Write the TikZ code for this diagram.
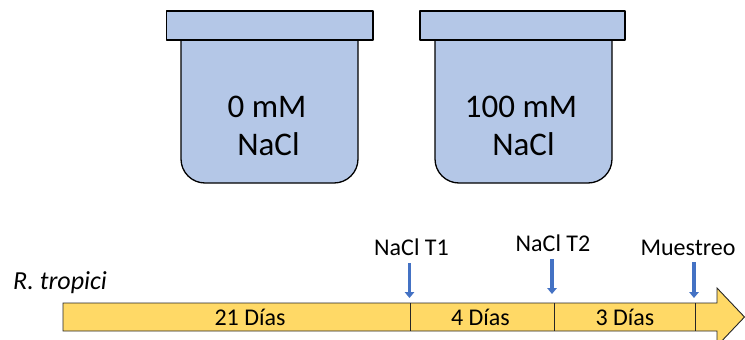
\documentclass[tikz,border=0pt]{standalone}
\usepackage{fontspec}
\setmainfont{Carlito}
\usetikzlibrary{arrows.meta}
\definecolor{potfill}{HTML}{B4C7E7}
\definecolor{barfill}{HTML}{FFD966}
\definecolor{markblue}{HTML}{4472C4}
\begin{document}
\begin{tikzpicture}[x=1pt,y=-1pt,
  pot/.style={fill=potfill, draw=black, line width=1.3pt, line join=round},
  potlabel/.style={font=\fontsize{33}{38}\selectfont, inner sep=0pt, anchor=base},
  daylabel/.style={font=\fontsize{24}{29}\selectfont, inner sep=0pt, anchor=base},
  bar/.style={fill=barfill, draw=black!85, line width=0.9pt, line join=miter},
  divider/.style={draw=black!85, line width=0.8pt},
  marker/.style={draw=markblue, line width=3.5pt, -{Triangle[width=9.5pt,length=6pt]}}]
\useasboundingbox (0,0) rectangle (745,340);

% ---- pots ----
\draw[pot] (181,40) [rounded corners=24pt] -- (181,183) -- (358,183) [sharp corners] -- (358,40);
\draw[pot] (166.5,11) rectangle (373,40);
\node[potlabel] (p0a) at (267,117) {0 mM};
\node[potlabel] (p0b) at (268.5,155) {NaCl};

\draw[pot] (435,40) [rounded corners=24pt] -- (435,183) -- (612,183) [sharp corners] -- (612,40);
\draw[pot] (420,11) rectangle (625,40);
\node[potlabel] (p1a) at (521,117) {100 mM};
\node[potlabel] (p1b) at (523.5,155) {NaCl};

% ---- timeline ----
\draw[bar] (63,303) -- (717,303) -- (717,288) -- (744.5,317) -- (717,346) -- (717,331) -- (63,331) -- cycle;
\coordinate (d1t) at (410.7,303); \coordinate (d1b) at (410.7,331);
\coordinate (d2t) at (554,303);   \coordinate (d2b) at (554,331);
\coordinate (d3t) at (695,303);   \coordinate (d3b) at (695,331);
\draw[divider] (d1t) -- (d1b);
\draw[divider] (d2t) -- (d2b);
\draw[divider] (d3t) -- (d3b);

\node[daylabel] (s1) at (250,325) {21 Días};
\node[daylabel] (s2) at (480.5,325) {4 Días};
\node[daylabel] (s3) at (625,325) {3 Días};

\node[daylabel, anchor=base west, font=\fontsize{26}{31}\selectfont\itshape] (org) at (13,289) {R. tropici};

% ---- event markers ----
\node[daylabel] (t1) at (411.5,255) {NaCl T1};
\node[daylabel] (t2) at (553,251) {NaCl T2};
\node[daylabel] (ms) at (688,255) {Muestreo};

\coordinate (t1a) at (409.5,263); \coordinate (t1b) at (409.5,298);
\coordinate (t2a) at (552,259);   \coordinate (t2b) at (552,294);
\coordinate (msa) at (694,262);   \coordinate (msb) at (694,298);
\draw[marker] (t1a) -- (t1b);
\draw[marker] (t2a) -- (t2b);
\draw[marker] (msa) -- (msb);
\end{tikzpicture}
\end{document}
